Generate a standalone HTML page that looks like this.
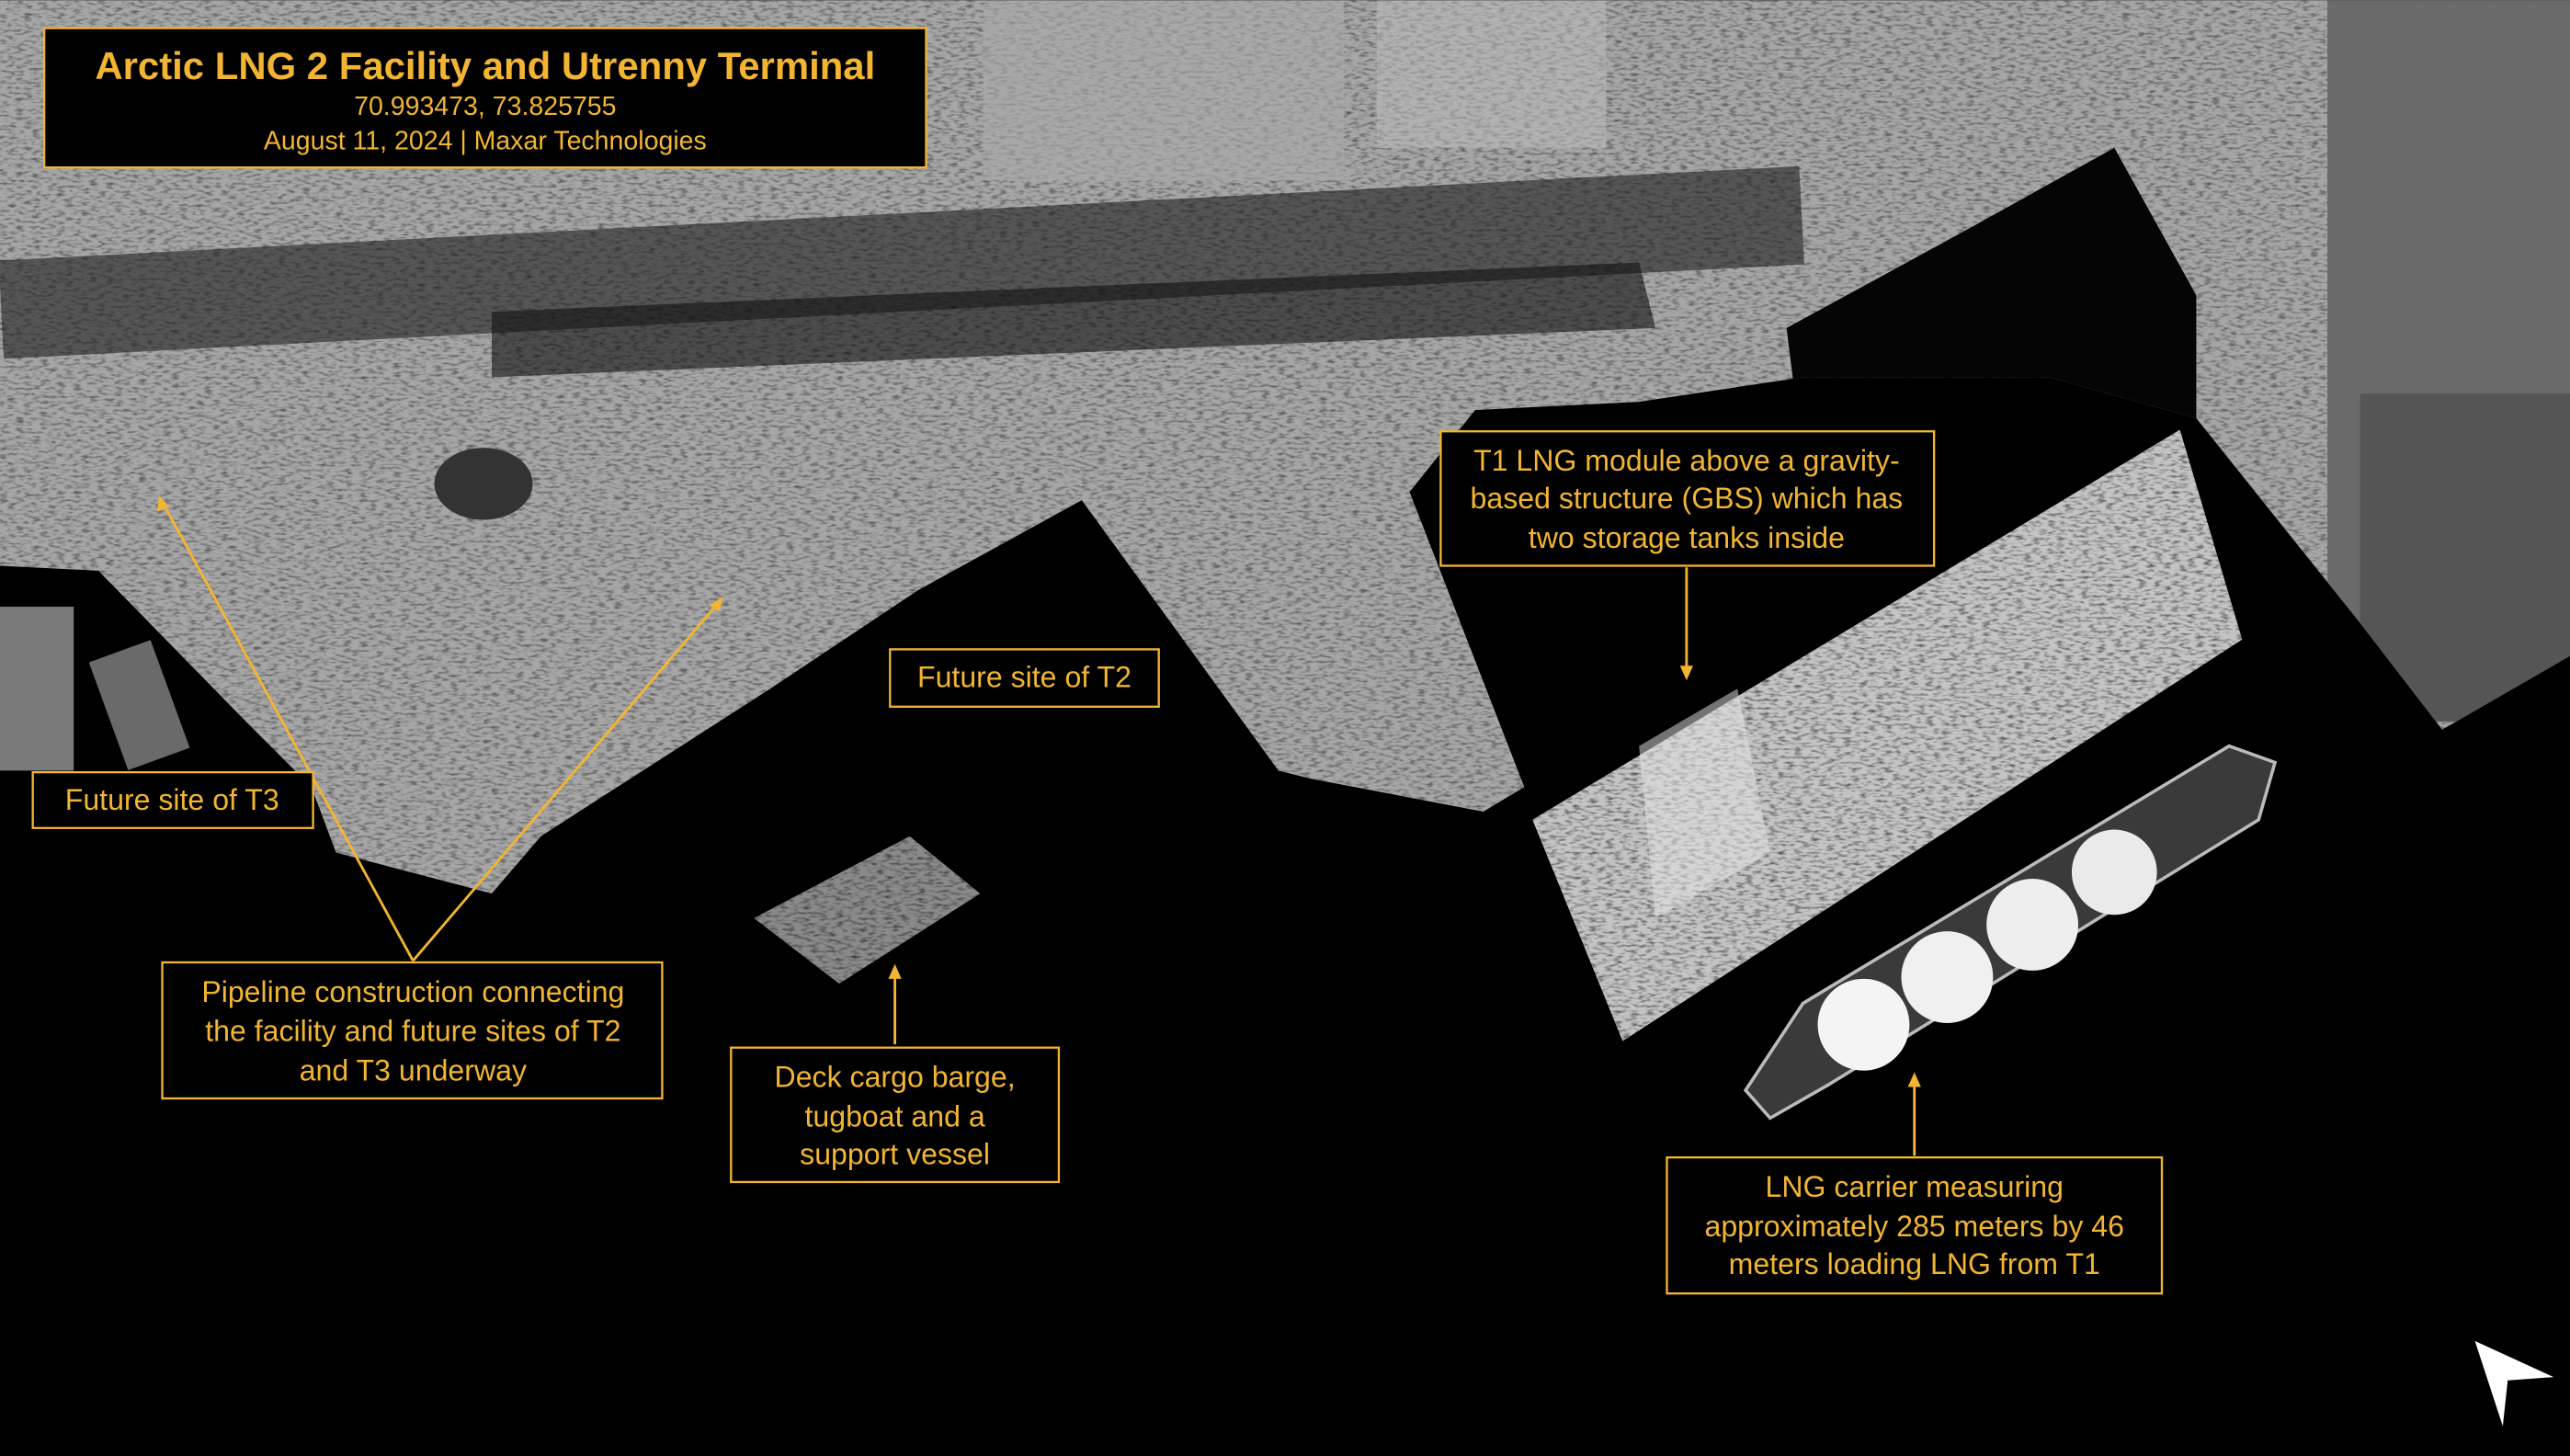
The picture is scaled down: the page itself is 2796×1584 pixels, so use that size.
<!DOCTYPE html>
<html><head><meta charset="utf-8"><style>
html,body{margin:0;padding:0;background:#000;}
svg{display:block}
text{font-family:"Liberation Sans",sans-serif;fill:#f2b531;}
</style></head><body>
<svg width="2796" height="1584" viewBox="0 0 1568 888" xmlns="http://www.w3.org/2000/svg">
<defs>
<filter id="noise" x="0" y="0" width="100%" height="100%">
<feTurbulence type="fractalNoise" baseFrequency="0.2 0.6" numOctaves="2" seed="3" result="t"/>
<feColorMatrix in="t" type="matrix" values="0 0 0 0 0  0 0 0 0 0  0 0 0 0 0  0 0 0 -2.4 1.3" result="a"/>
<feComposite in="SourceGraphic" in2="a" operator="in"/>
</filter>
<clipPath id="landclip"><path id="landp" d="M0,0 H1568 V400 L1490,445 L1440,380 L1340,255 L1250,230 L1100,230 L1000,245 L900,250 L860,300 L930,480 L905,495 L800,475 L780,470 L700,360 L660,305 L560,360 L470,420 L330,510 L300,545 L205,520 L190,480 L150,440 L60,348 L0,345 Z"/></clipPath>
</defs>
<rect width="1568" height="888" fill="#000"/>
<use href="#landp" fill="#a6a6a6"/>
<g clip-path="url(#landclip)">
<rect width="1568" height="888" fill="#1a1a1a" filter="url(#noise)" opacity="0.55"/>
<rect x="0" y="130" width="1100" height="60" fill="#202020" opacity="0.6" transform="rotate(-3 550 160)"/>
<rect x="1420" y="0" width="148" height="420" fill="#6a6a6a"/>
<rect x="1440" y="240" width="128" height="200" fill="#555"/>
<polygon points="1090,200 1200,140 1290,90 1340,180 1340,260 1250,300 1150,330 1100,280" fill="#050505"/>
<polygon points="300,190 1000,160 1010,200 300,230" fill="#111" opacity="0.6"/>
<ellipse cx="295" cy="295" rx="30" ry="22" fill="#333"/>
<rect x="840" y="0" width="140" height="90" fill="#bbb" opacity="0.5"/>
<rect x="600" y="0" width="220" height="110" fill="#aaa" opacity="0.6"/>
</g>
<rect x="0" y="370" width="45" height="100" fill="#7a7a7a"/>
<rect x="65" y="395" width="40" height="70" fill="#6a6a6a" transform="rotate(-20 85 430)"/>
<polygon points="935,500 1330,262 1368,390 990,635" fill="#c4c4c4"/>
<polygon points="935,500 1330,262 1368,390 990,635" fill="#111" filter="url(#noise)" opacity="0.6"/>
<polygon points="1000,455 1060,420 1080,520 1010,560" fill="#e6e6e6" opacity="0.5"/>
<polygon points="1065,665 1100,612 1360,455 1388,465 1378,500 1115,662 1080,682" fill="#3a3a3a" stroke="#bbb" stroke-width="2"/>
<circle cx="1137" cy="625" r="28" fill="#f4f4f4"/>
<circle cx="1188" cy="596" r="28" fill="#f0f0f0"/>
<circle cx="1240" cy="564" r="28" fill="#eeeeee"/>
<circle cx="1290" cy="532" r="26" fill="#eaeaea"/>
<polygon points="460,560 555,510 598,545 512,600" fill="#8a8a8a"/>
<polygon points="460,560 555,510 598,545 512,600" fill="#111" filter="url(#noise)" opacity="0.6"/>
<polygon points="1510,818 1558,840 1530,842 1527,870" fill="#fff"/>
<g stroke="#f2b531" stroke-width="1.6" fill="none">
<line x1="252" y1="586" x2="99" y2="306"/>
<line x1="252" y1="586" x2="438" y2="368"/>
<line x1="546" y1="637" x2="546" y2="594"/>
<line x1="1029" y1="346" x2="1029" y2="410"/>
<line x1="1168" y1="705" x2="1168" y2="660"/>
</g>
<g fill="#f2b531">
<polygon points="97,302 96,312 103,309"/>
<polygon points="441,364 433,369 439,373"/>
<polygon points="546,588 542,597 550,597"/>
<polygon points="1029,415 1025,406 1033,406"/>
<polygon points="1168,654 1164,663 1172,663"/>
</g>
<g fill="#000" stroke="#f2b531" stroke-width="1.3">
<rect x="27" y="17" width="538" height="85"/>
<rect x="20" y="471" width="171" height="34"/>
<rect x="543" y="396" width="164" height="35"/>
<rect x="99" y="587" width="305" height="83"/>
<rect x="446" y="639" width="200" height="82"/>
<rect x="879" y="263" width="301" height="82"/>
<rect x="1017" y="706" width="302" height="83"/>
</g>
<g text-anchor="middle">
<text x="296" y="48" font-size="23.5" font-weight="bold">Arctic LNG 2 Facility and Utrenny Terminal</text>
<text x="296" y="70" font-size="16">70.993473, 73.825755</text>
<text x="296" y="91" font-size="16">August 11, 2024 | Maxar Technologies</text>
<text x="105" y="494" font-size="18">Future site of T3</text>
<text x="625" y="419" font-size="18">Future site of T2</text>
<text x="252" y="611" font-size="18">Pipeline construction connecting</text>
<text x="252" y="635" font-size="18">the facility and future sites of T2</text>
<text x="252" y="659" font-size="18">and T3 underway</text>
<text x="546" y="663" font-size="18">Deck cargo barge,</text>
<text x="546" y="687" font-size="18">tugboat and a</text>
<text x="546" y="710" font-size="18">support vessel</text>
<text x="1029" y="287" font-size="18">T1 LNG module above a gravity-</text>
<text x="1029" y="310" font-size="18">based structure (GBS) which has</text>
<text x="1029" y="334" font-size="18">two storage tanks inside</text>
<text x="1168" y="730" font-size="18">LNG carrier measuring</text>
<text x="1168" y="754" font-size="18">approximately 285 meters by 46</text>
<text x="1168" y="777" font-size="18">meters loading LNG from T1</text>
</g>
</svg>
</body></html>
